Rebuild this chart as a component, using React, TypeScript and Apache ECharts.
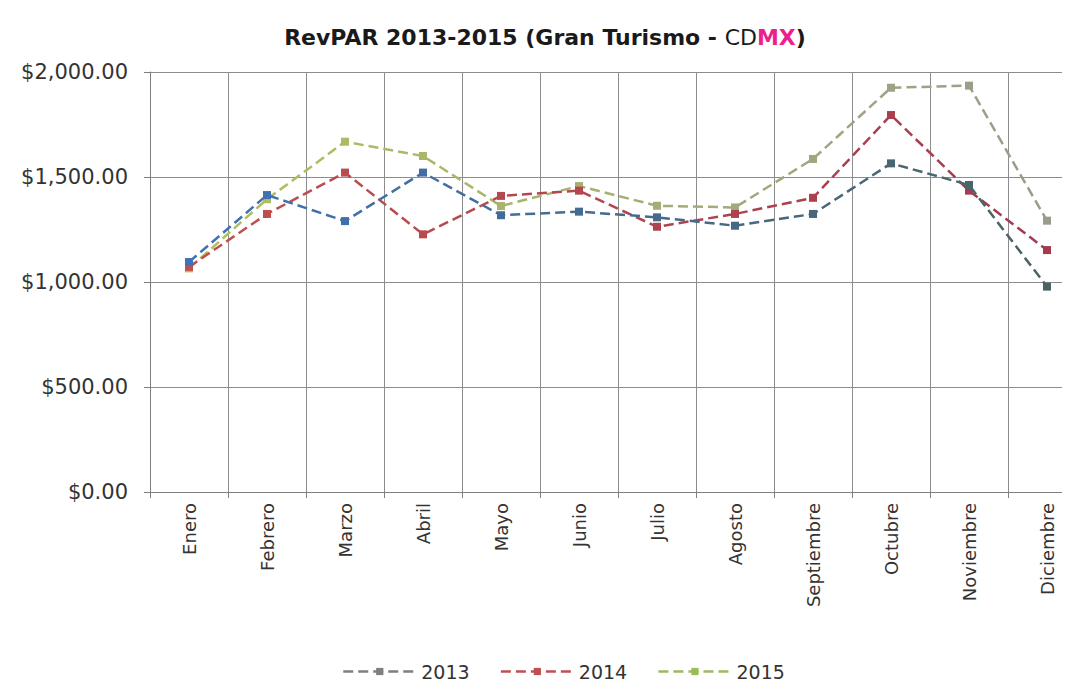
import React, { useEffect, useRef } from "react";
import * as echarts from "echarts";

const months = ["Enero", "Febrero", "Marzo", "Abril", "Mayo", "Junio", "Julio", "Agosto", "Septiembre", "Octubre", "Noviembre", "Diciembre"];
const rev2013 = [1095, 1414, 1290, 1521, 1318, 1335, 1308, 1268, 1324, 1565, 1462, 978];
const rev2014 = [1072, 1324, 1521, 1227, 1410, 1435, 1263, 1324, 1401, 1795, 1435, 1152];
const rev2015 = [1065, 1394, 1668, 1600, 1362, 1457, 1363, 1355, 1586, 1925, 1935, 1292];
const seriesNames = ["2013", "2014", "2015"];

function mix(a: string, b: string, t: number) {
  const pa = [1, 3, 5].map((i) => parseInt(a.slice(i, i + 2), 16));
  const pb = [1, 3, 5].map((i) => parseInt(b.slice(i, i + 2), 16));
  return "rgb(" + pa.map((v, i) => Math.round(v + (pb[i] - v) * t)).join(",") + ")";
}

export default function App() {
  const ref = useRef<HTMLDivElement>(null);
  useEffect(() => {
    if (!ref.current) return;
    const chart = echarts.init(ref.current, undefined, { renderer: "svg" });
    const styles = [
      { from: "#3f72b8", to: "#4a6464", legend: "#7f7f7f" },
      { from: "#c0504d", to: "#a33a4f", legend: "#c0504d" },
      { from: "#b3c05a", to: "#9a9c8c", legend: "#9bbb59" },
    ];
    const datas = [rev2013, rev2014, rev2015];
    const font = "'DejaVu Sans', 'Open Sans', sans-serif";
    chart.setOption({
      animation: false,
      backgroundColor: "#ffffff",
      title: {
        text: "{a|RevPAR 2013-2015 (Gran Turismo - }{b|CD}{c|MX}{a|)}",
        left: "center",
        top: 21,
        textStyle: {
          rich: {
            a: { fontFamily: font, fontSize: 22, fontWeight: "bold", color: "#1a1a1a" },
            b: { fontFamily: font, fontSize: 22, fontWeight: "normal", color: "#1a1a1a" },
            c: { fontFamily: font, fontSize: 22, fontWeight: "bold", color: "#ec1f8c" },
          },
        },
      },
      legend: {
        top: 657,
        left: 337,
        itemWidth: 73,
        itemHeight: 9,
        itemGap: 30,
        textStyle: { fontFamily: font, fontSize: 19, color: "#333" },
        data: seriesNames.map((n, i) => ({
          name: n,
          itemStyle: { color: styles[i].legend },
          lineStyle: { color: styles[i].legend, type: "dashed", width: 2.5 },
        })),
      },
      grid: { left: 150, top: 72, bottom: 199, right: 4 },
      xAxis: {
        type: "category",
        data: months,
        boundaryGap: true,
        axisLine: { lineStyle: { color: "#7f7f7f" } },
        axisTick: { show: true, length: 6, lineStyle: { color: "#7f7f7f" } },
        splitLine: { show: true, lineStyle: { color: "#8c8c8c", width: 1 } },
        axisLabel: { rotate: 90, fontFamily: font, fontSize: 18, color: "#333", margin: 11 },
      },
      yAxis: {
        type: "value",
        min: 0,
        max: 2000,
        interval: 500,
        axisLine: { show: true, lineStyle: { color: "#7f7f7f" } },
        axisTick: { show: true, length: 6, lineStyle: { color: "#7f7f7f" } },
        splitLine: { show: true, lineStyle: { color: "#8c8c8c", width: 1 } },
        axisLabel: {
          fontFamily: font,
          fontSize: 21,
          color: "#333",
          margin: 22,
          formatter: (v: number) =>
            "$" + v.toLocaleString("en-US", { minimumFractionDigits: 2, maximumFractionDigits: 2 }),
        },
      },
      series: datas.map((d, i) => ({
        name: seriesNames[i],
        type: "line",
        data: d,
        symbol: "rect",
        symbolSize: 8,
        lineStyle: {
          width: 2.5,
          type: "dashed",
          color: new echarts.graphic.LinearGradient(0, 0, 1, 0, [
            { offset: 0, color: styles[i].from },
            { offset: 1, color: styles[i].to },
          ]),
        },
        itemStyle: {
          color: (p: any) => mix(styles[i].from, styles[i].to, p.dataIndex / (d.length - 1)),
        },
        z: 3 - i,
      })),
    });
    return () => chart.dispose();
  }, []);
  return (
    <div style={{ width: 1070, height: 691, margin: -8, overflow: "hidden", position: "relative" }}>
      <div ref={ref} style={{ width: 1090, height: 691 }} />
    </div>
  );
}
